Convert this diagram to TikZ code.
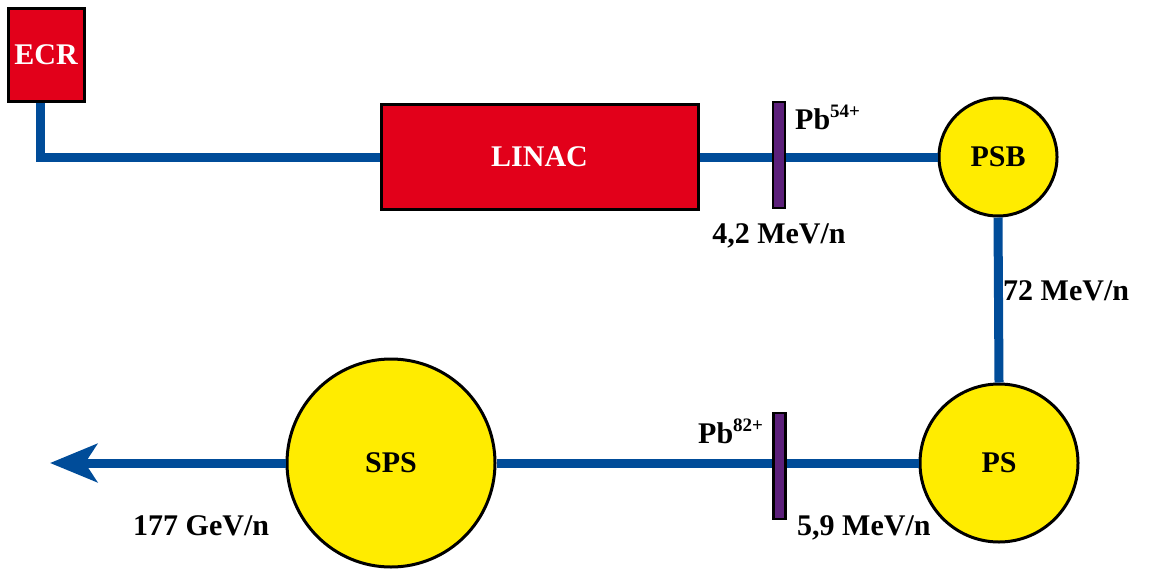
\documentclass[tikz,border=0pt]{standalone}
\usepackage{fontspec}
\setmainfont{Liberation Serif}
\usetikzlibrary{arrows.meta,positioning}
\definecolor{ionred}{RGB}{226,0,26}
\definecolor{beamblue}{RGB}{0,76,153}
\definecolor{ringyellow}{RGB}{255,236,0}
\definecolor{foilpurple}{RGB}{92,32,122}
\newcommand{\bigfont}{\bfseries\fontsize{30}{34}\selectfont}
\newcommand{\chg}[1]{\raisebox{0.4em}{\fontsize{19}{20}\selectfont #1}}

\begin{document}
\begin{tikzpicture}[x=1pt, y=-1pt,
    every node/.style={font=\bigfont},
    source/.style={rectangle, draw=black, fill=ionred, line width=3pt, text=white, inner sep=0pt},
    ring/.style={circle, draw=black, fill=ringyellow, line width=3pt, inner sep=0pt},
    foil/.style={rectangle, draw=black, fill=foilpurple, line width=2.5pt, minimum width=12pt, minimum height=106pt, inner sep=0pt},
    beam/.style={draw=beamblue, line width=9pt}]
    \useasboundingbox (0,0) rectangle (1153,568);

    % Sources and rings
    \node[source, minimum width=76pt, minimum height=93pt] (ecr) at (46,54.5) {ECR};
    \node[source, minimum width=317pt, minimum height=105pt] (linac) at (539.5,157) {LINAC};
    \node[ring, minimum size=118pt] (psb) at (998,157) {PSB};
    \node[ring, minimum size=158pt] (ps) at (999,463) {PS};
    \node[ring, minimum size=208pt] (sps) at (391,463) {SPS};
    \coordinate (exit) at (50,463);

    % Beam lines
    \draw[beam] ([xshift=-5.5pt]ecr.south) |- (linac.west);
    \draw[beam] (linac.east) -- (psb.west);
    \draw[beam] (psb.south) -- (ps.north);
    \draw[beam] (ps.west) -- (sps.east);
    \draw[beam, -{Stealth[length=47pt, width=38pt, inset=12pt]}] (sps.west) -- (exit);

    % Stripping foils
    \node[foil] (foilA) at (779,155) {};
    \node[foil] (foilB) at (779.5,466) {};

    % Labels
    \node[anchor=base west, inner sep=0pt] (pbA) at (795,129) {Pb\chg{54+}};
    \node[anchor=base, inner sep=0pt] (eA) at (779,243) {4,2 MeV/n};
    \node[anchor=base west, inner sep=0pt] (eB) at (1003,300) {72 MeV/n};
    \node[anchor=base west, inner sep=0pt] (pbB) at (698,443) {Pb\chg{82+}};
    \node[anchor=base west, inner sep=0pt] (eC) at (797,535) {5,9 MeV/n};
    \node[anchor=base west, inner sep=0pt] (eD) at (133,535) {177 GeV/n};
\end{tikzpicture}
\end{document}
